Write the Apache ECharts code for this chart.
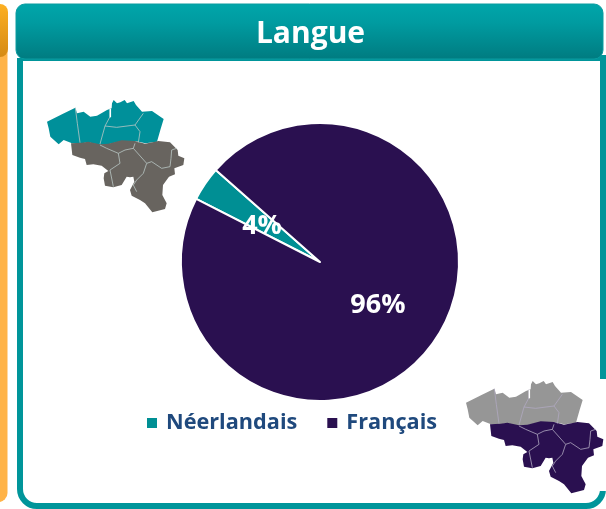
<!DOCTYPE html>
<html><head><meta charset="utf-8">
<style>html,body{margin:0;padding:0;background:#fff}#c{width:606px;height:509px}</style>
<script src="https://cdn.jsdelivr.net/npm/echarts@6/dist/echarts.min.js"></script>
</head><body><div id="c"></div>
<script>
const categories = ['Néerlandais', 'Français'];
const values = [4, 96];
const colors = ['#008f94', '#2a1050'];
const title = 'Langue';

// Decorative map of Belgium, in 3x pixel units
const northOutline = [[141,365],[186,343],[226,323],[231,340],[251,335],[271,350],[291,347],[321,330],[335,325],[336,310],[341,300],[351,310],[361,307],[374,300],[381,310],[401,303],[408,315],[426,335],[456,333],[491,357],[481,390],[471,425],[436,430],[406,423],[366,423],[325,433],[300,435],[265,427],[245,430],[216,430],[191,420],[176,433],[151,410],[146,385]];
const southOutline = [[213,430],[217,465],[240,473],[255,477],[260,495],[280,493],[305,497],[325,513],[313,520],[311,535],[315,557],[340,562],[365,555],[380,530],[390,532],[400,530],[403,545],[390,570],[395,587],[420,600],[435,610],[457,637],[495,627],[500,610],[487,585],[489,555],[507,530],[525,523],[523,505],[550,495],[553,475],[535,467],[533,450],[510,427],[475,423],[465,425],[435,431],[405,423],[365,421],[325,431],[300,433],[265,425],[245,428]];
const innerLines = [
  [[226,323],[232,370],[240,428]],
  [[330,325],[330,350],[315,378],[300,432]],
  [[315,378],[350,382],[405,375],[430,340]],
  [[405,375],[420,395],[415,428]],
  [[300,435],[320,445],[355,460],[360,490],[330,510],[340,560]],
  [[405,430],[400,445],[440,490],[430,520],[410,540],[400,555],[410,575]],
  [[355,460],[375,450],[400,445]],
  [[440,490],[455,485],[485,505],[510,500],[513,475],[515,450],[530,445]]
];
const lakeSpot = [[331,326],[331,352]];

function mapGraphics(dx, dy, northColor, southColor, lineColor) {
  const p = pts => pts.map(q => [q[0] / 3 + dx, q[1] / 3 + dy]);
  const out = [
    {type:'polygon', shape:{points:p(northOutline)}, style:{fill:northColor}},
    {type:'polygon', shape:{points:p(southOutline)}, style:{fill:southColor}}
  ];
  innerLines.forEach(l => out.push({type:'polyline', shape:{points:p(l)}, style:{stroke:lineColor, lineWidth:0.8, fill:null}}));
  out.push({type:'polyline', shape:{points:p(lakeSpot)}, style:{stroke:'#fff', lineWidth:1.5, fill:null}});
  return out;
}

const teal = '#00959a';
const chrome = [
  {type:'rect', shape:{x:-10,y:40,width:17.5,height:462,r:[0,0,9,0]}, style:{fill:'#ffb347'}},
  {type:'rect', shape:{x:-10,y:4,width:18,height:53,r:[0,8,8,0]},
   style:{fill:new echarts.graphic.LinearGradient(0,0,0,1,[{offset:0,color:'#fdb022'},{offset:1,color:'#d58a14'}])}},
  {type:'rect', shape:{x:20,y:58,width:583,height:448,r:[0,0,17,17]}, style:{fill:'#fff',stroke:teal,lineWidth:6}},
  {type:'rect', shape:{x:16,y:4,width:587,height:55,r:9},
   style:{fill:new echarts.graphic.LinearGradient(0,0,0,1,[{offset:0,color:'#00a6aa'},{offset:0.35,color:'#009ba0'},{offset:1,color:'#007b80'}]),stroke:'#0a9ca0',lineWidth:1}},
  {type:'text', x:310.5, y:34, style:{text:title, fill:'#fff', font:'bold 30px "Open Sans", sans-serif', align:'center', verticalAlign:'middle'}},
  {type:'rect', shape:{x:466,y:379,width:140,height:112}, style:{fill:'#fff'}}
];

const chart = echarts.init(document.getElementById('c'), null, {renderer:'canvas'});
chart.setOption({
  animation:false,
  graphic:{elements:[
    ...chrome,
    ...mapGraphics(0,0,'#00909a','#68645f','#b9c7c4'),
    ...mapGraphics(419,281,'#969696','#2a1050','#b0a8c0')
  ]},
  color:colors,
  legend:{
    data:categories, left:140, top:407, itemWidth:12, itemHeight:12, itemGap:28, icon:'rect',
    textStyle:{color:'#1f497d', fontWeight:'bold', fontSize:21.7, fontFamily:'Open Sans', padding:[4,0,0,3]}
  },
  series:[{
    type:'pie', center:[320,262], radius:[0,139], startAngle:153, clockwise:true,
    data:categories.map((n,i)=>({name:n,value:values[i]})),
    itemStyle:{borderColor:'#fff',borderWidth:2},
    emphasis:{disabled:true},
    labelLine:{show:false},
    labelLayout:p=>({dx:p.dataIndex===0?2:-2, dy:p.dataIndex===0?5:3}),
    label:{show:true, position:'inside', formatter:'{d}%', color:'#fff', fontWeight:'bold', fontSize:27, fontFamily:'Open Sans'}
  }]
});
</script></body></html>
